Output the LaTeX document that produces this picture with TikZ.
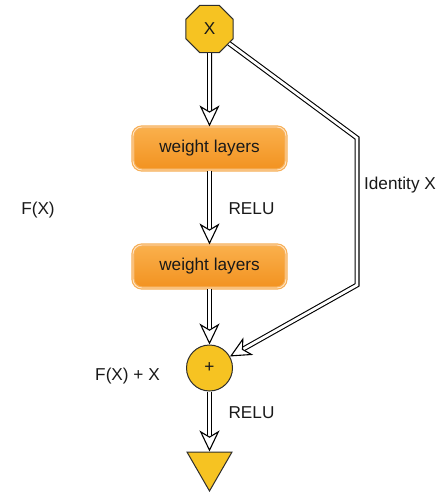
\documentclass[tikz,border=0pt]{standalone}
\usepackage{fontspec}
\setmainfont{Liberation Sans}
\usetikzlibrary{shapes.geometric, arrows.meta}
\definecolor{gold}{HTML}{F6C322}
\definecolor{goldedge}{HTML}{2E2E2E}
\definecolor{boxtop}{HTML}{FAB04C}
\definecolor{boxbot}{HTML}{F29220}
\definecolor{boxrim}{HTML}{F6AF58}
\definecolor{boxhl}{HTML}{FFE4C2}
\begin{document}
\begin{tikzpicture}[x=1bp, y=-1bp,
  every node/.style={font=\fontsize{17.2bp}{20bp}\selectfont, inner sep=0pt, text=black!90},
  octa/.style={regular polygon, regular polygon sides=8, minimum size=51bp,
    fill=gold, draw=goldedge, line width=1bp},
  sumnode/.style={circle, minimum size=46bp, fill=gold, draw=goldedge, line width=1bp},
  outnode/.style={regular polygon, regular polygon sides=3, shape border rotate=180,
    minimum size=52bp, fill=gold, draw=goldedge, line width=1bp},
  layerbox/.style={rectangle, rounded corners=9bp, minimum width=153bp, minimum height=43bp,
    top color=boxtop, bottom color=boxbot, draw=boxrim, double=boxhl,
    double distance=0.9bp, line width=1.2bp},
  dbl/.style={draw=black, double=white, double distance=2.8bp, line width=1.1bp,
    shorten >=8bp, line join=miter},
  head/.style={tips, -{Stealth[length=21bp, width=20bp, inset=6bp, fill=white, line width=1.1bp]}}
]
\useasboundingbox (0,0) rectangle (437,493);

% main path
\node[octa]     (x)    at (209.5, 29)    {X};
\node[layerbox] (w1)   at (209.5, 148.5) {weight layers};
\node[layerbox] (w2)   at (209.5, 266.5) {weight layers};
\node[sumnode]  (plus) at (209.5, 368)   {+};
\node[outnode]  (out)  at (209.5, 465)   {};

% bend points of the shortcut
\coordinate (c1) at (357, 138);
\coordinate (c2) at (357, 285);

% labels
\node (fx)    at (38, 210)    {F(X)};
\node (relu1) at (251.5, 208.5) {RELU};
\node (idx)   at (400, 185)   {Identity X};
\node (sum)   at (127.5, 376) {F(X) + X};
\node (relu2) at (251.5, 413) {RELU};

% connectors: hollow double lines with open heads
\draw[dbl] (x) -- (w1);       \path[head] (x) -- (w1);
\draw[dbl] (w1) -- (w2);      \path[head] (w1) -- (w2);
\draw[dbl] (w2) -- (plus);    \path[head] (w2) -- (plus);
\draw[dbl] (plus) -- (out);   \path[head] (plus) -- (out);
\draw[dbl] (x) -- (c1) -- (c2) -- (plus);
\path[head] (c2) -- (plus);
\end{tikzpicture}
\end{document}
